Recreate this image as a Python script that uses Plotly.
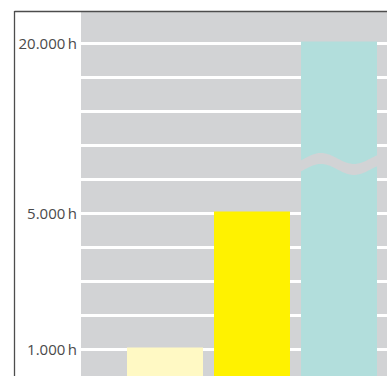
import numpy as np
import plotly.graph_objects as go

# ---- data ----
categories = ["A", "B", "C"]
hours = [1000, 5000, 20000]
tick_hours = [1000, 5000, 20000]
tick_labels = ["1.000\u2009h", "5.000\u2009h", "20.000\u2009h"]
bar_colors = ["#FFF9C4", "#FFF200", "#B2DEDC"]

# broken axis: linear to 5000, compressed above (axis break on tallest bar)
def disp(v):
    return v if v <= 5000 else 5000 + (v - 5000) / 3.0

y_disp = [disp(v) for v in hours]
x_idx = list(range(len(categories)))

BG = "#D2D3D5"
W, H = 387, 376
ML, MT = 81, 12
PW, PH = W - ML, H - MT

# pixel helpers (for decoration only)
X0_PX, XSTEP = 165.0, 87.0
Y1000_PX, YSTEP = 349.5, 34.0
def px2x(px):
    return (px - X0_PX) / XSTEP
def py2y(py):
    return 1000 + (Y1000_PX - py) / YSTEP * 1000

x_range = [px2x(ML), px2x(W)]
y_range = [py2y(H), py2y(MT)]

fig = go.Figure()
fig.add_trace(go.Bar(
    x=x_idx, y=y_disp,
    marker=dict(color=bar_colors, line=dict(color=bar_colors, width=4)),
    width=(76 - 4) / XSTEP,
    hoverinfo="skip",
))

# wave break across tallest bar
xs = np.linspace(300.5, 377.5, 60)
top = 158.5 - 5.5 * np.cos(2 * np.pi * (xs - 321) / 66)
bot = top + 11
pts = [(px2x(a), py2y(b)) for a, b in zip(xs, top)] + \
      [(px2x(a), py2y(b)) for a, b in zip(xs[::-1], bot[::-1])]
path = "M " + " L ".join(f"{a:.5f},{b:.3f}" for a, b in pts) + " Z"

shapes = [
    dict(type="path", path=path, xref="x", yref="y",
         fillcolor=BG, line=dict(width=0), layer="above"),
    # frame lines
    dict(type="line", xref="paper", yref="paper",
         x0=(14.5 - ML) / PW, x1=1.01, y0=1 + 0.5 / PH, y1=1 + 0.5 / PH,
         line=dict(color="#4d4d4d", width=1.4)),
    dict(type="line", xref="paper", yref="paper",
         x0=(14.5 - ML) / PW, x1=(14.5 - ML) / PW, y0=-0.01, y1=1 + 1.0 / PH,
         line=dict(color="#4d4d4d", width=1.3)),
]

fig.update_layout(
    width=W, height=H,
    margin=dict(l=ML, r=0, t=MT, b=0, pad=0),
    paper_bgcolor="white", plot_bgcolor=BG,
    showlegend=False,
    shapes=shapes,
    xaxis=dict(range=x_range, showgrid=False, zeroline=False,
               showticklabels=False, ticks="", fixedrange=True),
    yaxis=dict(range=y_range, tickvals=[disp(v) for v in tick_hours],
               ticktext=tick_labels, ticks="", showgrid=True,
               gridcolor="white", gridwidth=2.5, zeroline=False,
               ticklabelstandoff=3,
               tickfont=dict(family="Open Sans", size=15, color="#4a4a4a"),
               minor=dict(dtick=1000, tick0=0, showgrid=True,
                          gridcolor="white", gridwidth=2.5, ticks=""),
               fixedrange=True),
    font=dict(family="Open Sans"),
)

fig.write_html("out.html")
